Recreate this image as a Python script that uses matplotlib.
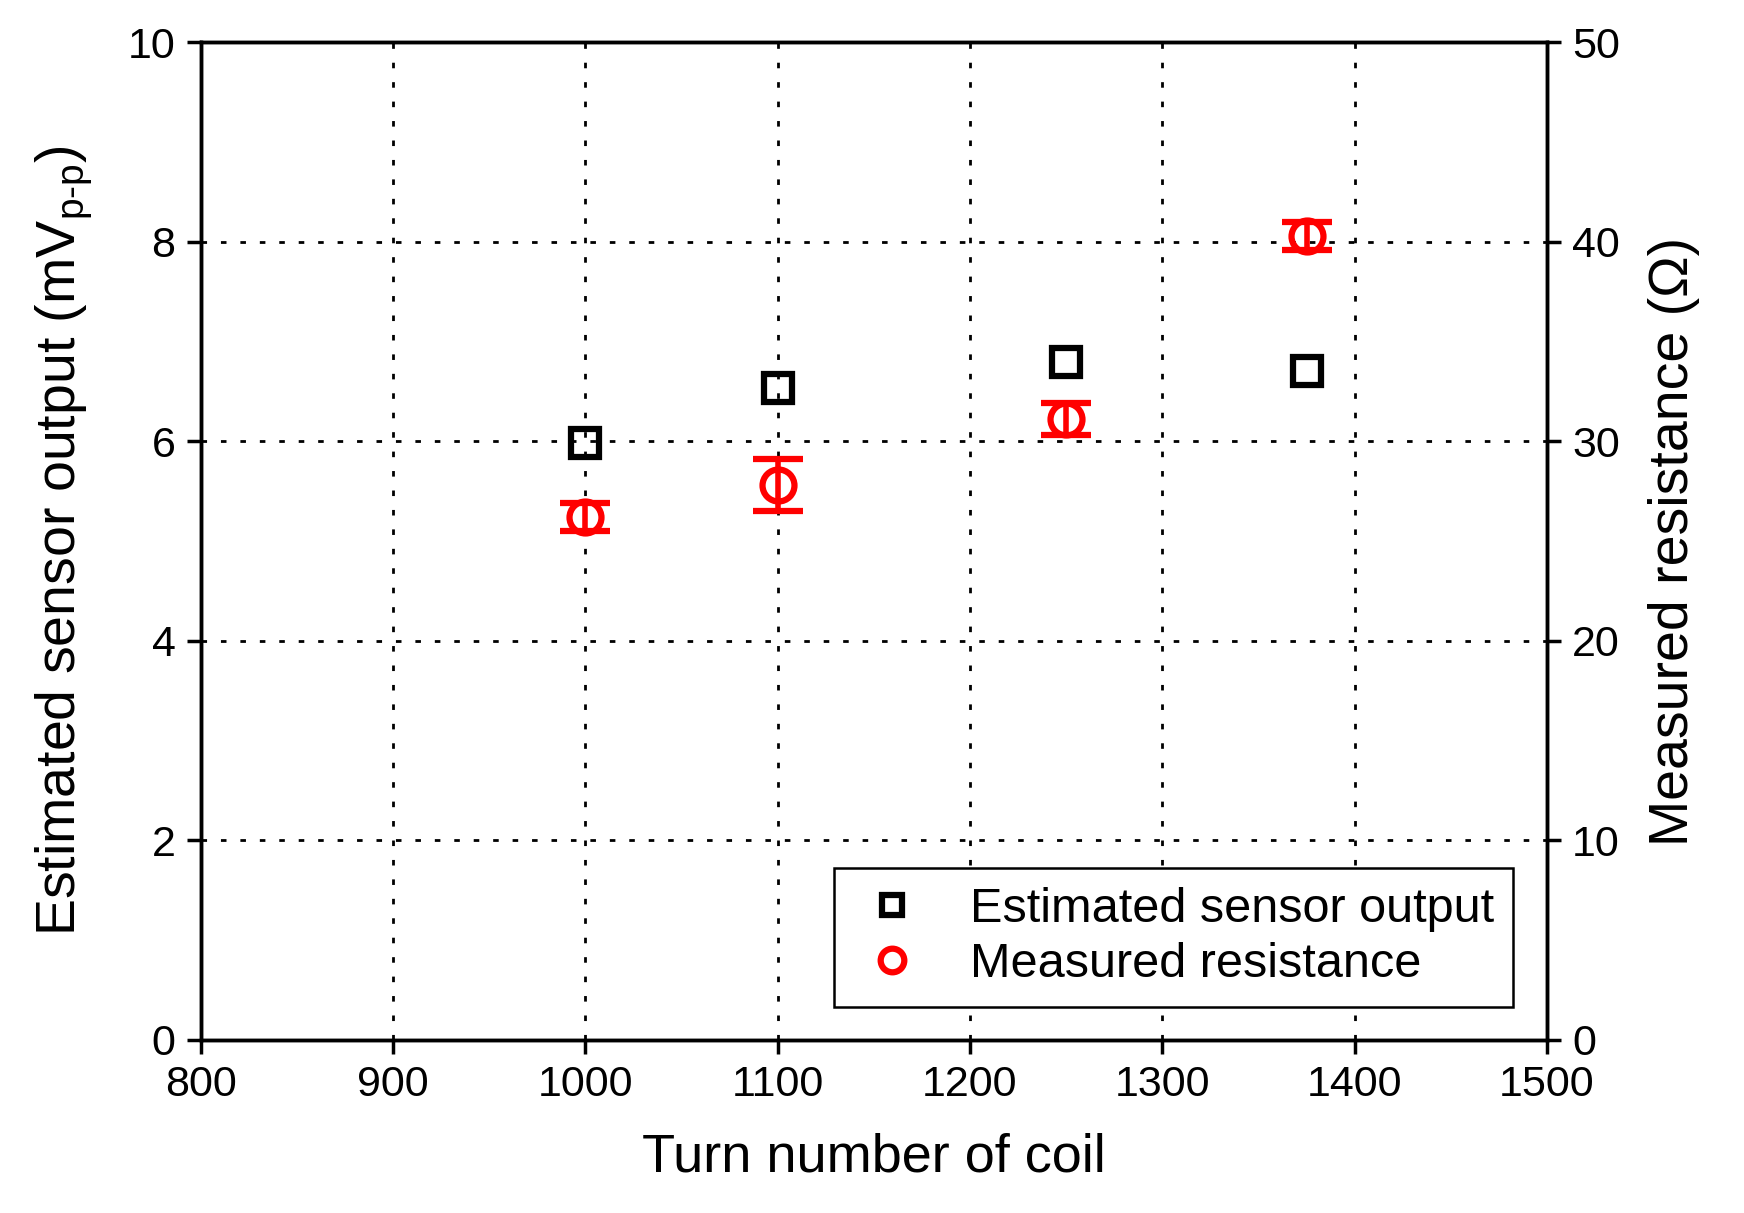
import matplotlib.pyplot as plt
import numpy as np

plt.rcParams['font.family'] = ['Liberation Sans', 'DejaVu Sans']
plt.rcParams['mathtext.fontset'] = 'custom'
plt.rcParams['mathtext.rm'] = 'Liberation Sans'

# datos
turns = [1000, 1100, 1250, 1375]
output_mv = [5.98, 6.53, 6.80, 6.70]
resistance = [26.2, 27.8, 31.1, 40.3]
resistance_err = [0.7, 1.3, 0.8, 0.7]

fig = plt.figure(figsize=(17.44, 12.13), dpi=100)
ax = fig.add_axes([0.115, 0.143, 0.772, 0.822])
ax2 = ax.twinx()

ax.plot(turns, output_mv, 's', ms=20, mfc='none', mec='black', mew=4.5,
        label='Estimated sensor output', zorder=5)
ax2.errorbar(turns, resistance, yerr=resistance_err, fmt='o', ms=23,
             mfc='none', mec='red', mew=4.5, ecolor='red', elinewidth=4,
             capsize=18, capthick=5, zorder=5)

ax.set_xlim(800, 1500)
ax.set_ylim(0, 10)
ax2.set_ylim(0, 50)
ax.set_xticks(np.arange(800, 1501, 100))
ax.set_yticks(np.arange(0, 11, 2))
ax2.set_yticks(np.arange(0, 51, 10))

ax.grid(True, color='black', linestyle=(0, (2, 5)), linewidth=2)
ax.set_axisbelow(True)

for a in (ax, ax2):
    a.tick_params(direction='out', length=10, width=2.5, labelsize=31, pad=8)
    for s in a.spines.values():
        s.set_linewidth(2.5)

ax.set_xlabel('Turn number of coil', fontsize=39, labelpad=20)
ax.set_ylabel('Estimated sensor output (mV$_{\\mathrm{p\\text{-}p}}$)', fontsize=40, labelpad=24)
ax2.set_ylabel('Measured resistance (\u03a9)', fontsize=40, labelpad=20)

# leyenda
h1 = plt.Line2D([], [], ls='none', marker='s', ms=14, mfc='none', mec='black', mew=4.5)
h2 = plt.Line2D([], [], ls='none', marker='o', ms=17, mfc='none', mec='red', mew=4.5)
leg = ax2.legend([h1, h2], ['Estimated sensor output', 'Measured resistance'],
                 loc='lower right', bbox_to_anchor=(0.975, 0.033), fontsize=35,
                 fancybox=False, edgecolor='black', framealpha=1,
                 handletextpad=0.8, borderpad=0.4, labelspacing=0.2,
                 handlelength=1.6, borderaxespad=0)
leg.get_frame().set_linewidth(1.8)

plt.savefig('out.png', dpi=100)
